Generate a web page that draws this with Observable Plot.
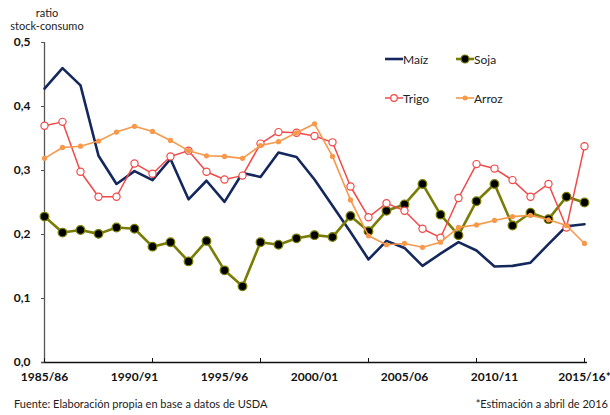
<!DOCTYPE html>
<html><head><meta charset="utf-8">
<script src="https://cdn.jsdelivr.net/npm/d3@7"></script>
<script src="https://cdn.jsdelivr.net/npm/@observablehq/plot@0.6"></script>
<style>
body{margin:0;background:#fff;font-family:Lato,"Open Sans",sans-serif;color:#222;}
#wrap{position:relative;width:610px;height:415px;overflow:hidden;background:#fff;}
#chart{position:absolute;left:0;top:0;}
#ytitle{position:absolute;left:7px;top:6px;width:80px;text-align:center;font-size:11px;line-height:13px;z-index:2;}
.leg{position:absolute;font-size:12px;display:flex;align-items:center;height:14px;z-index:2;}
.leg svg{display:block;}
#src{position:absolute;left:14px;top:397px;font-size:11px;z-index:2;}
#note{position:absolute;right:2px;top:397px;font-size:11px;z-index:2;}
</style></head><body>
<div id="wrap">
  <div id="chart"></div>
  <div id="ytitle">ratio<br>stock-consumo</div>
  <div id="legend"></div>
  <div id="src">Fuente: Elaboración propia en base a datos de USDA</div>
  <div id="note">*Estimación a abril de 2016</div>
</div>
<script>
const seasons = ["1985/86","1986/87","1987/88","1988/89","1989/90","1990/91","1991/92","1992/93","1993/94","1994/95","1995/96","1996/97","1997/98","1998/99","1999/00","2000/01","2001/02","2002/03","2003/04","2004/05","2005/06","2006/07","2007/08","2008/09","2009/10","2010/11","2011/12","2012/13","2013/14","2014/15","2015/16*"];
const labelSeasons = ["1985/86","1990/91","1995/96","2000/01","2005/06","2010/11","2015/16*"];
const tickSeasons = ["1985/86","1991/92","1997/98","2003/04","2009/10","2015/16*"];
const yTicks = [0, 0.1, 0.2, 0.3, 0.4, 0.5];

const maiz  = [0.428,0.460,0.433,0.323,0.279,0.299,0.285,0.318,0.255,0.284,0.251,0.296,0.290,0.328,0.321,0.286,0.245,0.204,0.161,0.190,0.179,0.151,0.170,0.188,0.175,0.150,0.151,0.156,0.185,0.213,0.216];
const soja  = [0.228,0.203,0.207,0.201,0.211,0.209,0.181,0.188,0.158,0.190,0.144,0.119,0.188,0.184,0.194,0.199,0.196,0.229,0.205,0.237,0.247,0.279,0.231,0.199,0.252,0.279,0.214,0.234,0.224,0.259,0.250];
const trigo = [0.370,0.376,0.298,0.259,0.259,0.311,0.295,0.322,0.331,0.298,0.286,0.292,0.342,0.360,0.359,0.354,0.344,0.275,0.227,0.249,0.237,0.209,0.195,0.257,0.310,0.303,0.285,0.259,0.279,0.211,0.338];
const arroz = [0.319,0.336,0.338,0.346,0.360,0.369,0.361,0.347,0.331,0.323,0.322,0.319,0.339,0.345,0.359,0.373,0.322,0.254,0.198,0.184,0.186,0.180,0.188,0.211,0.215,0.222,0.228,0.230,0.223,0.214,0.186];

const C = {maiz:"#14285e", soja:"#7a7d05", trigo:"#f24848", arroz:"#f7984a"};
const rows = (vals) => seasons.map((s, i) => ({season: s, value: vals[i]}));

const fmt = d => d.toFixed(1).replace(".", ",");

const chart = Plot.plot({
  width: 610,
  height: 385,
  marginLeft: 41,
  marginRight: 23,
  marginTop: 42,
  marginBottom: 23,
  style: {fontFamily: "Lato, 'Open Sans', sans-serif", background: "transparent", color: "#111"},
  x: {type: "point", domain: seasons, padding: 0, label: null},
  y: {domain: [0, 0.5], label: null},
  marks: [
    Plot.ruleX([seasons[0]], {stroke: "#555", strokeWidth: 1.3}),
    Plot.ruleY([0], {stroke: "#111", strokeWidth: 1.5}),
    Plot.axisY(yTicks, {tickSize: -3, tickFormat: () => "", stroke: "#555", label: null}),
    Plot.axisY(yTicks, {tickSize: 0, tickPadding: 11, tickFormat: fmt, fontWeight: "bold", fontSize: 12, label: null}),
    Plot.axisX(tickSeasons, {tickSize: -4, tickFormat: () => "", stroke: "#111", label: null}),
    Plot.axisX(labelSeasons, {tickSize: 0, tickPadding: 10, fontWeight: "bold", fontSize: 12, label: null}),
    Plot.line(rows(maiz), {x: "season", y: "value", stroke: C.maiz, strokeWidth: 2.6}),
    Plot.line(rows(soja), {x: "season", y: "value", stroke: C.soja, strokeWidth: 2.6}),
    Plot.dot(rows(soja), {x: "season", y: "value", r: 4.3, fill: "#000", stroke: C.soja, strokeWidth: 1.3}),
    Plot.line(rows(trigo), {x: "season", y: "value", stroke: C.trigo, strokeWidth: 1.5}),
    Plot.dot(rows(trigo), {x: "season", y: "value", r: 3.6, fill: "#fff", stroke: C.trigo, strokeWidth: 1.2}),
    Plot.line(rows(arroz), {x: "season", y: "value", stroke: C.arroz, strokeWidth: 1.6}),
    Plot.dot(rows(arroz), {x: "season", y: "value", r: 2.6, fill: C.arroz, stroke: "none"})
  ]
});
document.getElementById("chart").appendChild(chart);

// legend
const legendItems = [
  {name: "Maíz", color: C.maiz, w: 2.6, marker: null, x: 385, y: 52},
  {name: "Soja", color: C.soja, w: 2.6, marker: {r: 4, fill: "#000", stroke: C.soja}, x: 456, y: 52},
  {name: "Trigo", color: C.trigo, w: 1.5, marker: {r: 3.3, fill: "#fff", stroke: C.trigo}, x: 385, y: 91},
  {name: "Arroz", color: C.arroz, w: 1.6, marker: {r: 2.5, fill: C.arroz, stroke: "none"}, x: 456, y: 91}
];
const leg = document.getElementById("legend");
for (const it of legendItems) {
  const d = document.createElement("div");
  d.className = "leg";
  d.style.left = it.x + "px";
  d.style.top = it.y + "px";
  const m = it.marker ? `<circle cx="9" cy="7" r="${it.marker.r}" fill="${it.marker.fill}" stroke="${it.marker.stroke}" stroke-width="1.2"/>` : "";
  d.innerHTML = `<svg width="18" height="14"><line x1="0" x2="18" y1="7" y2="7" stroke="${it.color}" stroke-width="${it.w}"/>${m}</svg><span>${it.name}</span>`;
  leg.appendChild(d);
}
</script>
</body></html>
